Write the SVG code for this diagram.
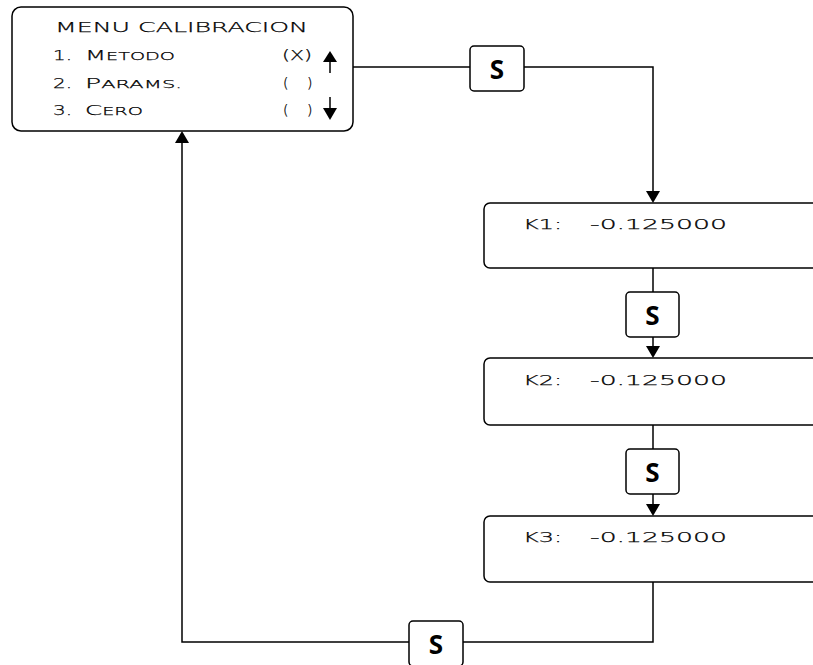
<svg xmlns="http://www.w3.org/2000/svg" width="813" height="665" viewBox="0 0 813 665">
<style>
.box{fill:#fff;stroke:#000;stroke-width:1.5}
.lcd{font-family:"DejaVu Sans",sans-serif;font-weight:200;font-size:14px;fill:#000;stroke:#000;stroke-width:0.25}
.sm{font-size:11px}
.s{font-family:"Open Sans","DejaVu Sans",sans-serif;font-weight:bold;font-size:26px;fill:#000;text-anchor:middle}
.ln{fill:none;stroke:#000;stroke-width:1.5}
.ah{fill:#000}
</style>
<rect width="813" height="665" fill="#fff"/>
<g id="connectors">
<path class="ln" d="M353,67 H470"/>
<path class="ln" d="M524,67 H653 V192"/>
<path class="ah" d="M646,191 L660,191 L653,203 Z"/>
<path class="ln" d="M653,268 V292"/>
<path class="ln" d="M653,337 V347"/>
<path class="ah" d="M646,346 L660,346 L653,358 Z"/>
<path class="ln" d="M653,425 V449"/>
<path class="ln" d="M653,494 V505"/>
<path class="ah" d="M646,504 L660,504 L653,516 Z"/>
<path class="ln" d="M653,582 V642 H463"/>
<path class="ln" d="M409,642 H182 V142"/>
<path class="ah" d="M175,143 L189,143 L182,131 Z"/>
</g>
<g id="menu">
<rect class="box" x="12" y="7" width="341" height="124" rx="9"/>
<text class="lcd" x="55" y="32" textLength="253" lengthAdjust="spacingAndGlyphs">MENU CALIBRACION</text>
<text class="lcd" x="53" y="60" textLength="19" lengthAdjust="spacingAndGlyphs">1.</text>
<text class="lcd" x="85" y="60" textLength="90" lengthAdjust="spacingAndGlyphs">M<tspan class="sm">ETODO</tspan></text>
<text class="lcd" x="53" y="88" textLength="19" lengthAdjust="spacingAndGlyphs">2.</text>
<text class="lcd" x="85" y="88" textLength="97" lengthAdjust="spacingAndGlyphs">P<tspan class="sm">ARAMS.</tspan></text>
<text class="lcd" x="53" y="115" textLength="19" lengthAdjust="spacingAndGlyphs">3.</text>
<text class="lcd" x="85" y="115" textLength="58" lengthAdjust="spacingAndGlyphs">C<tspan class="sm">ERO</tspan></text>
<text class="lcd" x="282" y="60" textLength="30" lengthAdjust="spacingAndGlyphs">(X)</text>
<text class="lcd" x="283" y="88">(</text><text class="lcd" x="307" y="88">)</text>
<text class="lcd" x="283" y="115">(</text><text class="lcd" x="307" y="115">)</text>
<path class="ln" d="M330,73 V60"/>
<path class="ah" d="M323,62 L337,62 L330,51 Z"/>
<path class="ln" d="M330,97 V110"/>
<path class="ah" d="M323,108 L337,108 L330,120 Z"/>
</g>
<g id="s1">
<rect class="box" x="470" y="46" width="54" height="45" rx="4"/>
<text class="s" x="497" y="79">S</text>
</g>
<g id="k1">
<rect class="box" x="484" y="203" width="360" height="65" rx="6"/>
<text class="lcd" x="523" y="229" textLength="39" lengthAdjust="spacingAndGlyphs">K1:</text>
<text class="lcd" x="590" y="229" textLength="137" lengthAdjust="spacingAndGlyphs">-0.125000</text>
</g>
<g id="s2">
<rect class="box" x="626" y="292" width="53" height="45" rx="4"/>
<text class="s" x="652.500" y="325">S</text>
</g>
<g id="k2">
<rect class="box" x="484" y="358" width="360" height="67" rx="6"/>
<text class="lcd" x="523" y="385" textLength="39" lengthAdjust="spacingAndGlyphs">K2:</text>
<text class="lcd" x="590" y="385" textLength="137" lengthAdjust="spacingAndGlyphs">-0.125000</text>
</g>
<g id="s3">
<rect class="box" x="626" y="449" width="53" height="45" rx="4"/>
<text class="s" x="652.500" y="482">S</text>
</g>
<g id="k3">
<rect class="box" x="484" y="516" width="360" height="66" rx="6"/>
<text class="lcd" x="523" y="542" textLength="39" lengthAdjust="spacingAndGlyphs">K3:</text>
<text class="lcd" x="590" y="542" textLength="137" lengthAdjust="spacingAndGlyphs">-0.125000</text>
</g>
<g id="s4">
<rect class="box" x="409" y="621" width="54" height="45" rx="4"/>
<text class="s" x="436" y="654">S</text>
</g>
</svg>
